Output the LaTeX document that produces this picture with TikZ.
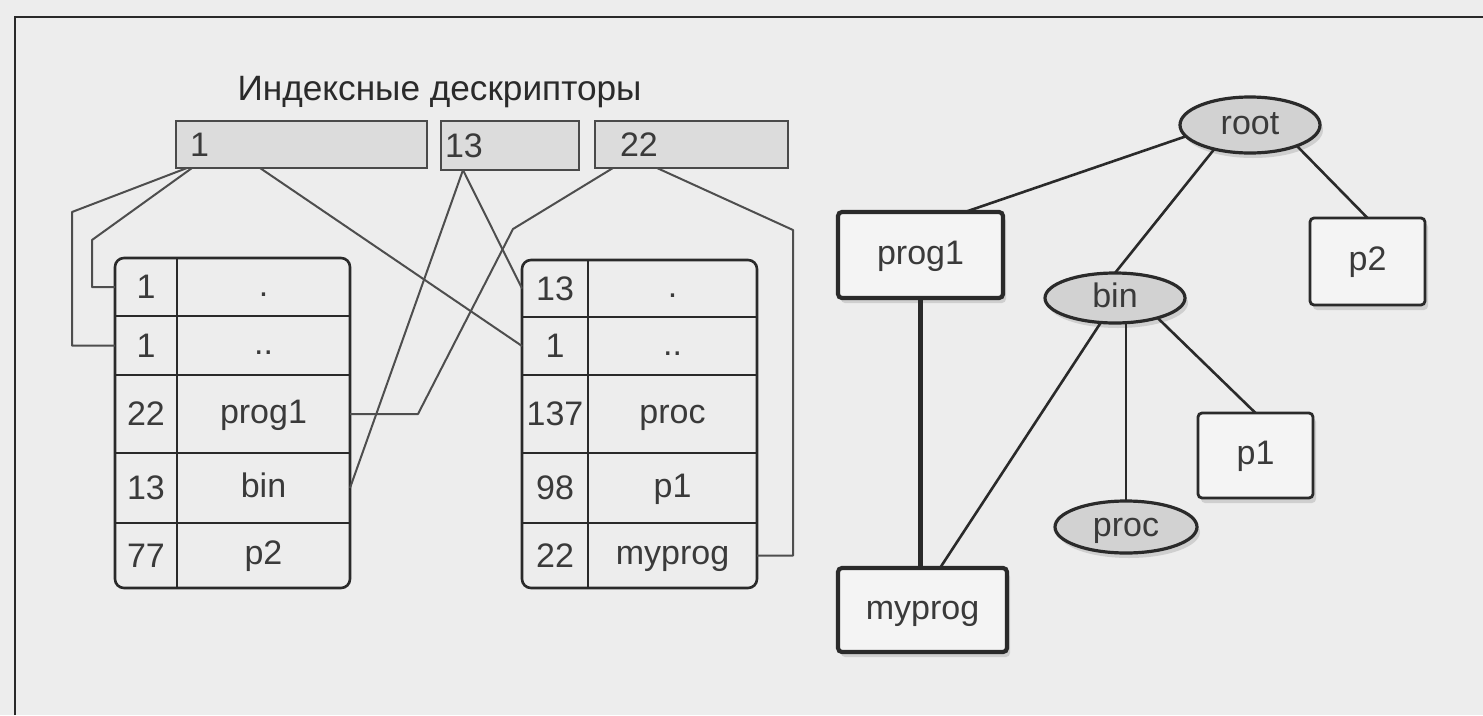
\documentclass[tikz,border=0pt]{standalone}
\usepackage{fontspec}
\setmainfont{Liberation Sans}
\usetikzlibrary{shapes.geometric,shadows}
\definecolor{bg}{HTML}{EDEDED}
\definecolor{ink}{HTML}{2A2A2A}
\definecolor{txt}{HTML}{3A3A3A}
\definecolor{wire}{HTML}{4E4E4E}
\definecolor{iboxfill}{HTML}{DCDCDC}
\definecolor{ellfill}{HTML}{D2D2D2}
\newcommand\mkrow[8]{%
  \node[cell,minimum width=#4,minimum height=#6,anchor=north west] (#1-a) at (#2,#3) {#7};
  \node[cell,fixedtext,minimum width=#5,minimum height=#6,anchor=north west] (#1-b) at (#1-a.north east) {#8};}
\begin{document}
\begin{tikzpicture}[x=1pt,y=-1pt,
  font=\fontsize{34}{38}\selectfont, text=txt,
  fixedtext/.style={text height=25pt,text depth=7pt},
  cell/.style={rectangle,inner sep=0pt,outer sep=0pt},
  grid/.style={draw=ink,line width=2.6pt},
  ibox/.style={rectangle,draw=ink!85,line width=2.6pt,fill=iboxfill,inner ysep=0pt,outer sep=0pt,anchor=north west,align=left},
  ell/.style={ellipse,fixedtext,draw=ink,line width=3.2pt,fill=ellfill,inner sep=0pt,outer sep=0pt,
     drop shadow={shadow xshift=3pt,shadow yshift=-5pt,fill=black!40,opacity=.35}},
  tbox/.style={rectangle,fixedtext,draw=ink,line width=2.8pt,rounded corners=4pt,fill=bg!60!white,inner sep=0pt,outer sep=0pt,
     drop shadow={shadow xshift=3pt,shadow yshift=-5pt,fill=black!40,opacity=.35}},
  heavy/.style={line width=4.2pt},
  wireline/.style={draw=wire,line width=2pt,line join=round},
  edge/.style={draw=ink,line width=2.6pt}]
% background and frame
\fill[bg] (0,0) rectangle (1483,715);
\useasboundingbox (0,0) rectangle (1483,715);
\draw[ink,line width=2.4pt] (15,715) -- (15,17) -- (1483,17);

% title
\node[anchor=base west,text=ink,font=\fontsize{35.2}{40}\selectfont] (title) at (234,100) {Индексные дескрипторы};

% index descriptor boxes
\node[ibox,minimum width=251pt,minimum height=47pt,text width=223pt,inner xsep=14pt] (i1) at (176,121) {1};
\node[ibox,minimum width=138pt,minimum height=49pt,text width=130pt,inner xsep=4pt] (i13) at (441,121) {13};
\node[ibox,minimum width=193pt,minimum height=47pt,text width=143pt,inner xsep=25pt] (i22) at (595,121) {22};

% left directory table
\mkrow{L1}{115}{258}{62pt}{173pt}{58pt}{1}{.}
\mkrow{L2}{115}{316}{62pt}{173pt}{59pt}{1}{..}
\mkrow{L3}{115}{375}{62pt}{173pt}{78pt}{22}{prog1}
\mkrow{L4}{115}{453}{62pt}{173pt}{70pt}{13}{bin}
\mkrow{L5}{115}{523}{62pt}{173pt}{65pt}{77}{p2}
\draw[grid,rounded corners=9pt] (L1-a.north west) rectangle (L5-b.south east);
\draw[grid] (L1-a.north east) -- (L5-a.south east);
\foreach \r in {1,...,4} {\draw[grid] (L\r-a.south west) -- (L\r-b.south east);}

% right directory table
\mkrow{R1}{522}{260}{66pt}{169pt}{57pt}{13}{.}
\mkrow{R2}{522}{317}{66pt}{169pt}{58pt}{1}{..}
\mkrow{R3}{522}{375}{66pt}{169pt}{78pt}{137}{proc}
\mkrow{R4}{522}{453}{66pt}{169pt}{70pt}{98}{p1}
\mkrow{R5}{522}{523}{66pt}{169pt}{65pt}{22}{myprog}
\draw[grid,rounded corners=9pt] (R1-a.north west) rectangle (R5-b.south east);
\draw[grid] (R1-a.north east) -- (R5-a.south east);
\foreach \r in {1,...,4} {\draw[grid] (R\r-a.south west) -- (R\r-b.south east);}

% bend points of the descriptor links
\coordinate (b1) at (72,212);
\coordinate (b2) at (92,240);
\coordinate (b3) at (513,229);
\coordinate (b4) at (418,414);
\coordinate (b5) at (793,230);

% links from index descriptors to directory entries
\draw[wireline] ([xshift=11pt]i1.south west) -- (b1) -- (b1 |- L2-a.west) -- (L2-a.west);
\draw[wireline] ([xshift=16pt]i1.south west) -- (b2) -- (b2 |- L1-a.west) -- (L1-a.west);
\draw[wireline] ([xshift=84pt]i1.south west) -- (R2-a.west);
\draw[wireline] ([xshift=22pt]i13.south west) -- (L4-b.east);
\draw[wireline] ([xshift=22pt]i13.south west) -- (R1-a.west);
\draw[wireline] ([xshift=18pt]i22.south west) -- (b3) -- (b4) -- (L3-b.east);
\draw[wireline] ([xshift=62pt]i22.south west) -- (b5) -- (b5 |- R5-b.east) -- (R5-b.east);

% tree
\node[ell,minimum width=140pt,minimum height=56pt] (root) at (1250,125) {root};
\node[ell,minimum width=140pt,minimum height=50pt] (bin) at (1115,298) {bin};
\node[ell,minimum width=142pt,minimum height=52pt] (proc) at (1126,527) {proc};
\node[tbox,heavy,minimum width=165pt,minimum height=86pt] (prog1) at (920.5,255) {prog1};
\node[tbox,minimum width=115pt,minimum height=87pt] (p2) at (1367.5,261.5) {p2};
\node[tbox,minimum width=115pt,minimum height=85pt] (p1) at (1255.5,455.5) {p1};
\node[tbox,heavy,minimum width=169pt,minimum height=84pt] (myprog) at (922.5,610) {myprog};

\draw[edge] (root.190) -- ([xshift=-38pt]prog1.north east);
\draw[edge] (root.214) -- (bin.north);
\draw[edge] (root.336) -- (p2.north);
\draw[edge] (bin.240) -- ([xshift=17.5pt]myprog.north);
\draw[edge] (proc.north |- bin.south) -- (proc.north);
\draw[edge] (bin.335) -- (p1.north);
\draw[edge,heavy] (prog1.south) -- (prog1.south |- myprog.north);
\end{tikzpicture}
\end{document}
